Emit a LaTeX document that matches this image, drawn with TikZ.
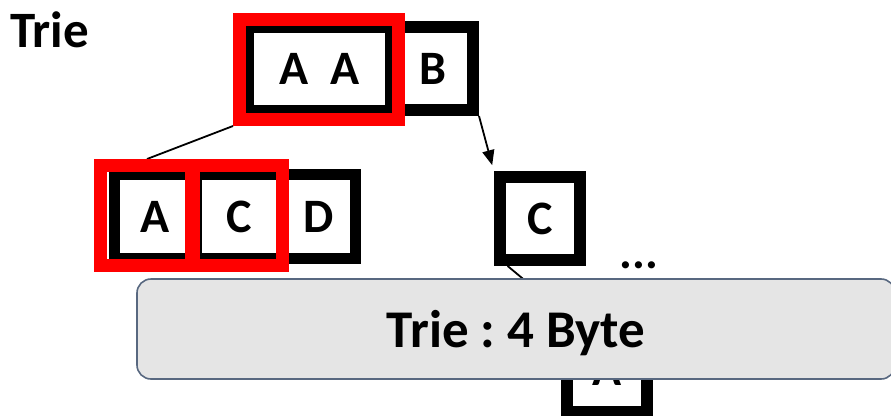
\documentclass[tikz,border=0pt]{standalone}
\usepackage{fontspec}
\setmainfont{Carlito}
\usetikzlibrary{calc,arrows.meta,backgrounds}
\frenchspacing
\definecolor{markred}{RGB}{255,0,0}
\definecolor{panelfill}{RGB}{229,229,229}
\definecolor{paneledge}{RGB}{88,104,128}
\tikzset{
  cell/.style={draw=black, fill=white, inner sep=0pt, line width=11pt,
    font=\fontsize{48}{50}\selectfont\bfseries},
  hilite/.style={draw=markred, line width=13pt, inner sep=0pt},
  link/.style={draw=black, line width=1.8pt},
  pointer/.style={link, -{Triangle[length=15pt,width=12pt]}, shorten >=6pt},
  panel/.style={draw=paneledge, fill=panelfill, line width=1.6pt,
    rounded corners=14pt, inner sep=0pt, text depth=0pt,
    font=\fontsize{53}{56}\selectfont\bfseries},
}
\begin{document}
\begin{tikzpicture}[x=1pt,y=-1pt]
\useasboundingbox (0,0) rectangle (891,415);

% heading
\node[anchor=base west, inner sep=0pt, font=\fontsize{51}{55}\selectfont\bfseries]
  (title) at (10,47) {Trie};

% root level
\node[cell, line width=12pt, minimum width=80pt, minimum height=83pt] (rootB) at (433,68.5) {B};
\node[cell, line width=8pt, minimum width=139pt, minimum height=80pt] (rootAA) at (319.5,69)
  {A\hspace{22pt}A};
\node[hilite, minimum width=159pt, minimum height=100pt] (markAA) at (319,69.5) {};

% second level, left branch
\node[cell, minimum width=73.5pt, minimum height=84pt] (kidD) at (318.75,216.5) {D};
\node[cell, minimum width=86pt, minimum height=84pt] (kidC) at (239,216.5) {C};
\node[cell, minimum width=82pt, minimum height=84pt] (kidA) at (155,216.5) {A};
\node[hilite, minimum width=93pt, minimum height=100pt] (markA) at (147,215.5) {};
\node[hilite, minimum width=91pt, minimum height=100pt] (markC) at (237,215.5) {};

% second level, right branch
\node[cell, line width=12pt, minimum width=80.5pt, minimum height=83pt] (rightC) at (540,218.5) {C};
\node[anchor=base, inner sep=0pt, font=\fontsize{48}{50}\selectfont\bfseries]
  (more) at (639,268) {...};

% third level
\node[cell, line width=12pt, minimum width=80pt, minimum height=84pt] (lowA) at (607,370) {A};

% connectors behind the boxes
\begin{scope}[on background layer]
  \draw[link] (markAA.south west) -- (markA.north);
  \draw[pointer] (rootB.south east) -- (rightC.north west);
  \draw[pointer] ($(rightC.south west)!0.15!(rightC.south east)$)
    -- ($(lowA.north west)!0.15!(lowA.north east)$);
\end{scope}

% size label
\node[panel, minimum width=758pt, minimum height=100pt] (sizebox) at (516,329) {Trie : 4 Byte};
\end{tikzpicture}
\end{document}
